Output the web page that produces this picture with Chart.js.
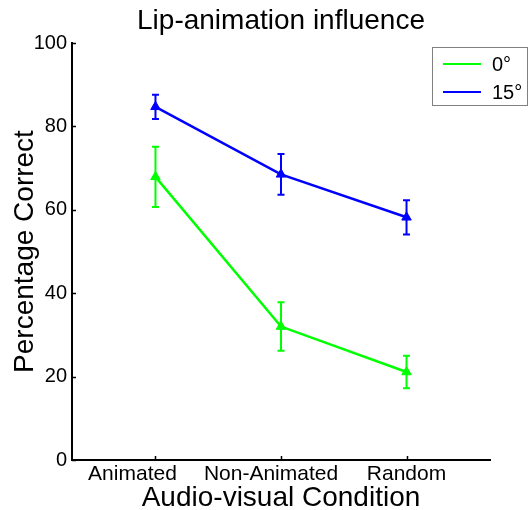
<!DOCTYPE html>
<html><head><meta charset="utf-8">
<script src="https://cdn.jsdelivr.net/npm/chart.js@4"></script>
<style>html,body{margin:0;padding:0;background:#fff;overflow:hidden;}</style>
</head><body>
<canvas id="c" width="531" height="510"></canvas>
<script>
const categories = ['Animated', 'Non-Animated', 'Random'];
const seriesNames = ['0°', '15°'];
const values0 = [67.9, 32.0, 21.1];
const errors0 = [7.2, 5.8, 3.9];
const values15 = [84.7, 68.5, 58.2];
const errors15 = [2.9, 4.9, 4.1];
const yTicks = [0, 20, 40, 60, 80, 100];
const colors = ['#00ff00', '#0000ff'];

const FONT = '"Liberation Sans", Arial, sans-serif';
// the reference places its category labels slightly left of the tick marks
const labelShift = [-23, -10, 0];

function toPoints(vals) { return vals.map((v, i) => ({ x: i, y: v })); }

const errorBars = {
  id: 'errorBars',
  beforeDatasetsDraw(chart) {
    const ctx = chart.ctx, xs = chart.scales.x, ys = chart.scales.y;
    chart.data.datasets.forEach(ds => {
      ctx.save();
      ctx.strokeStyle = ds.borderColor;
      ctx.lineWidth = 2;
      ds.errors.forEach((e, i) => {
        const px = xs.getPixelForValue(i);
        const v = ds.data[i].y;
        const top = ys.getPixelForValue(v + e), bot = ys.getPixelForValue(v - e);
        ctx.beginPath();
        ctx.moveTo(px, top); ctx.lineTo(px, bot);
        ctx.moveTo(px - 3.5, top); ctx.lineTo(px + 3.5, top);
        ctx.moveTo(px - 3.5, bot); ctx.lineTo(px + 3.5, bot);
        ctx.stroke();
      });
      ctx.restore();
    });
  }
};

const decor = {
  id: 'decor',
  afterDraw(chart) {
    const ctx = chart.ctx, xs = chart.scales.x, ys = chart.scales.y, ca = chart.chartArea;
    ctx.save();
    // inward ticks
    ctx.strokeStyle = '#000'; ctx.lineWidth = 1.5;
    ctx.beginPath();
    yTicks.forEach(t => { const py = Math.round(ys.getPixelForValue(t)) + 0.5; ctx.moveTo(ca.left, py); ctx.lineTo(ca.left + 4, py); });
    categories.forEach((c, i) => { const px = Math.round(xs.getPixelForValue(i)) + 0.5; ctx.moveTo(px, ca.bottom); ctx.lineTo(px, ca.bottom - 4); });
    ctx.stroke();
    // category labels
    ctx.fillStyle = '#000';
    ctx.font = '21px ' + FONT;
    ctx.textAlign = 'center'; ctx.textBaseline = 'top';
    categories.forEach((c, i) => ctx.fillText(c, xs.getPixelForValue(i) + labelShift[i], ca.bottom + 4));
    // title
    ctx.font = '28px ' + FONT;
    ctx.textAlign = 'center'; ctx.textBaseline = 'middle';
    ctx.fillText('Lip-animation influence', (ca.left + ca.right) / 2, 21);
    // legend
    const bx = 432.5, by = 47.5, bw = 95, bh = 58;
    ctx.fillStyle = '#fff'; ctx.fillRect(bx, by, bw, bh);
    ctx.strokeStyle = '#808080'; ctx.lineWidth = 1; ctx.strokeRect(bx, by, bw, bh);
    const rows = [64, 92];
    ctx.font = '20px ' + FONT; ctx.textAlign = 'left'; ctx.textBaseline = 'middle';
    chart.data.datasets.forEach((ds, k) => {
      ctx.strokeStyle = ds.borderColor; ctx.lineWidth = 2;
      ctx.beginPath(); ctx.moveTo(443, rows[k]); ctx.lineTo(481, rows[k]); ctx.stroke();
      ctx.fillStyle = '#000'; ctx.fillText(ds.label, 492, rows[k] + 1);
    });
    ctx.restore();
  }
};

new Chart(document.getElementById('c'), {
  type: 'line',
  data: {
    datasets: [
      { label: seriesNames[0], data: toPoints(values0), errors: errors0, borderColor: colors[0], backgroundColor: colors[0], borderWidth: 2.5, pointStyle: 'triangle', pointRadius: 5.5, pointBorderWidth: 1, tension: 0 },
      { label: seriesNames[1], data: toPoints(values15), errors: errors15, borderColor: colors[1], backgroundColor: colors[1], borderWidth: 2.5, pointStyle: 'triangle', pointRadius: 5.5, pointBorderWidth: 1, tension: 0 }
    ]
  },
  options: {
    responsive: false, animation: false, devicePixelRatio: 1,
    layout: { padding: { top: 43, right: 41, bottom: 0, left: 0 } },
    plugins: { legend: { display: false }, tooltip: { enabled: false }, title: { display: false } },
    scales: {
      x: {
        type: 'linear', min: -0.665, max: 2.665,
        afterBuildTicks: s => { s.ticks = categories.map((c, i) => ({ value: i })); },
        afterFit: s => { s.height = 50; },
        grid: { display: false, drawTicks: false },
        border: { display: true, color: '#000', width: 2 },
        ticks: { display: false },
        title: { display: true, text: 'Audio-visual Condition', color: '#000', font: { family: FONT, size: 28, lineHeight: 1 }, padding: { bottom: -2 } }
      },
      y: {
        min: 0, max: 100,
        afterBuildTicks: s => { s.ticks = yTicks.map(v => ({ value: v })); },
        afterFit: s => { s.width = 72; },
        grid: { display: false, drawTicks: false },
        border: { display: true, color: '#000', width: 2 },
        ticks: { padding: 5, color: '#000', font: { family: FONT, size: 20 } },
        title: { display: true, text: 'Percentage Correct', color: '#000', font: { family: FONT, size: 28, lineHeight: 1 }, padding: { top: 11 } }
      }
    }
  },
  plugins: [errorBars, decor]
});
</script>
</body></html>
